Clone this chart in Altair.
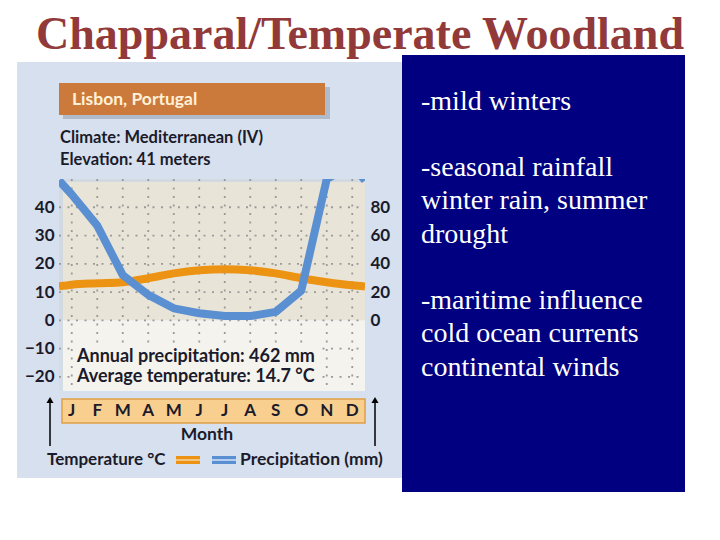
import altair as alt
import pandas as pd

# ---------------- data ----------------
months = list(range(1, 13))
month_letters = ["J", "F", "M", "A", "M", "J", "J", "A", "S", "O", "N", "D"]
temperature_c = [12.6, 13.1, 13.5, 14.9, 16.6, 17.7, 18.1, 17.7, 16.6, 14.9, 13.5, 12.4]
precipitation_mm = [89, 67, 32, 18, 8.5, 5, 3, 3, 6, 21, 100, 110]
# the curves run on to the plot edges (half a month before Jan / after Dec)
edge_months = [0.5, 12.5]
temperature_edges = [12.0, 12.0]
precipitation_edges = [99, 99]
temp_ticks = [-20, -10, 0, 10, 20, 30, 40]
precip_ticks = [0, 20, 40, 60, 80]
temp_domain = [-25, 50]
precip_domain = [-50, 100]
month_domain = [0.5, 12.5]

title_text = "Chapparal/Temperate Woodland"
station = "Lisbon, Portugal"
climate_lines = ["Climate: Mediterranean (IV)", "Elevation: 41 meters"]
summary_lines = ["Annual precipitation: 462 mm", "Average temperature: 14.7 °C"]
notes = [["-mild winters"],
         ["-seasonal rainfall", "winter rain, summer", "drought"],
         ["-maritime influence", "cold ocean currents", "continental winds"]]

temp_df = pd.DataFrame({"month": [edge_months[0]] + months + [edge_months[1]],
                        "temp": [temperature_edges[0]] + temperature_c + [temperature_edges[1]]})
prec_df = pd.DataFrame({"month": [edge_months[0]] + months + [edge_months[1]],
                        "prec": [precipitation_edges[0]] + precipitation_mm + [precipitation_edges[1]]})

# ---------------- layout / style ----------------
PAGE = 8
OX, OY = 59, 179          # page position of the plot's top-left corner
W, H = 306, 212
CW, CH = 704, 524

SANS = "Lato"
SERIF = "Liberation Serif"
DARK = "#1b1b2b"
PANEL = "#d6e0ee"
UPPER = "#e9e4d8"
LOWER = "#f5f3ee"
GRID = "#9a9a9a"
ORANGE = "#ec9314"
BLUE = "#5a8fd2"
HEADER = "#cc7a3c"
STRIP = "#f8cf8e"
NAVY = "#000080"
TITLE = "#923a3a"

one = pd.DataFrame({"k": [0]})


def px(ix):
    return alt.value(ix - OX)


def py(iy):
    return alt.value(iy - OY)


def box(x1, x2, y1, y2, **kw):
    return alt.Chart(one).mark_rect(**kw).encode(x=px(x1), x2=px(x2), y=py(y1), y2=py(y2))


def label(text, ix, iy, **kw):
    return alt.Chart(one).mark_text(text=text, **kw).encode(x=px(ix), y=py(iy))


xs = alt.Scale(domain=month_domain, nice=False, zero=False)
ys = alt.Scale(domain=temp_domain, nice=False, zero=False)
yp = alt.Scale(domain=precip_domain, nice=False, zero=False)

axis_style = dict(domain=False, ticks=False, grid=False, title=None, labelFont=SANS,
                  labelFontWeight="bold", labelFontSize=17, labelColor=DARK, labelPadding=5,
                  zindex=1)

layers = []
# light blue figure panel
layers.append(box(17, 402, 62, 478, color=PANEL))
# header
layers.append(box(63, 330, 87, 119, color="#9eaabb", opacity=0.7))
layers.append(box(59, 325, 83, 115, color=HEADER))
layers.append(label(station, 72, 100, font=SANS, fontWeight="bold", fontSize=17.5,
                    color="#fff1d8", align="left", baseline="middle"))
layers.append(label(climate_lines[0], 60, 138, font=SANS, fontWeight="bold", fontSize=16.5,
                    color=DARK, align="left", baseline="middle"))
layers.append(label(climate_lines[1], 60, 160, font=SANS, fontWeight="bold", fontSize=16.5,
                    color=DARK, align="left", baseline="middle"))

# plot backgrounds
layers.append(alt.Chart(pd.DataFrame({"lo": [0], "hi": [temp_domain[1]]})).mark_rect(color=UPPER)
              .encode(x=alt.value(0), x2=alt.value(W),
                      y=alt.Y("lo:Q", scale=ys, axis=None), y2="hi:Q"))
layers.append(alt.Chart(pd.DataFrame({"lo": [temp_domain[0]], "hi": [0]})).mark_rect(color=LOWER)
              .encode(x=alt.value(0), x2=alt.value(W),
                      y=alt.Y("lo:Q", scale=ys, axis=None), y2="hi:Q"))
layers.append(box(OX, OX + 4, OY, OY + H, color="#ccd6e3", opacity=0.8))
layers.append(box(OX, OX + W, OY, OY + 3, color="#ccd6e3", opacity=0.8))

# dotted grid
layers.append(alt.Chart(pd.DataFrame({"t": temp_ticks})).mark_rule(color=GRID, strokeDash=[2, 6.5], strokeWidth=1.8)
              .encode(y=alt.Y("t:Q", scale=ys, axis=None), x=alt.value(0), x2=alt.value(W)))
layers.append(alt.Chart(pd.DataFrame({"m": months})).mark_rule(color=GRID, strokeDash=[2, 6.5], strokeWidth=1.8)
              .encode(x=alt.X("m:Q", scale=xs, axis=None), y=alt.value(0), y2=alt.value(H)))

# data lines
layers.append(alt.Chart(temp_df).mark_line(color=ORANGE, strokeWidth=8, interpolate="monotone",
                                           clip=True, strokeCap="butt")
              .encode(x=alt.X("month:Q", scale=xs, axis=None),
                      y=alt.Y("temp:Q", scale=ys,
                              axis=alt.Axis(orient="left", values=temp_ticks, **axis_style))))
layers.append(alt.Chart(prec_df).mark_line(color=BLUE, strokeWidth=8, interpolate="linear",
                                           clip=True, strokeCap="butt", strokeJoin="round")
              .encode(x=alt.X("month:Q", scale=xs, axis=None),
                      y=alt.Y("prec:Q", scale=yp,
                              axis=alt.Axis(orient="right", values=precip_ticks, **axis_style))))

# summary annotation
layers.append(box(73, 322, 343, OY + H, color=LOWER))
layers.append(label(summary_lines[0], 77, 357, font=SANS, fontWeight="bold", fontSize=18,
                    color=DARK, align="left", baseline="middle"))
layers.append(label(summary_lines[1], 77, 377, font=SANS, fontWeight="bold", fontSize=18,
                    color=DARK, align="left", baseline="middle"))

# month strip
layers.append(box(62, 365, 399, 423, color=STRIP, stroke="#e0a048", strokeWidth=1.5))
layers.append(alt.Chart(pd.DataFrame({"m": months, "l": month_letters}))
              .mark_text(font=SANS, fontWeight="bold", fontSize=17, color=DARK, baseline="middle")
              .encode(x=alt.X("m:Q", scale=xs, axis=None), y=py(411), text="l:N"))
layers.append(label("Month", 207, 435, font=SANS, fontWeight="bold", fontSize=17.5,
                    color=DARK, align="center", baseline="middle"))

# arrows
for ax in (50, 375):
    layers.append(alt.Chart(one).mark_rule(color="black", strokeWidth=1.5)
                  .encode(x=px(ax), y=py(400), y2=py(446)))
    layers.append(alt.Chart(one).mark_point(shape="triangle-up", filled=True, size=50,
                                            color="black", opacity=1)
                  .encode(x=px(ax), y=py(400)))

# legend
layers.append(label("Temperature °C", 47, 460, font=SANS, fontWeight="bold", fontSize=17,
                    color=DARK, align="left", baseline="middle"))
layers.append(box(176, 200, 456, 464, color=ORANGE))
layers.append(box(176, 200, 459, 461, color="#f6c47c"))
layers.append(box(212, 236, 456, 464, color=BLUE))
layers.append(box(212, 236, 459, 461, color="#b4cff0"))
layers.append(label("Precipitation (mm)", 240, 460, font=SANS, fontWeight="bold", fontSize=17.5,
                    color=DARK, align="left", baseline="middle"))

# navy text box
layers.append(box(402, 685, 55, 492, color=NAVY))
for para, base in zip(notes, (110, 176, 309)):
    layers.append(label(para, 421, base, font=SERIF, fontSize=28, color="white", align="left",
                        baseline="alphabetic", lineHeight=33.3))

# slide title
layers.append(label(title_text, 360, 48.5, font=SERIF, fontWeight="bold", fontSize=46,
                    color=TITLE, align="center", baseline="alphabetic"))

chart = (alt.layer(*layers)
         .resolve_scale(y="independent")
         .properties(width=W, height=H,
                     autosize=alt.AutoSizeParams(type="none"),
                     padding={"left": OX - PAGE, "top": OY - PAGE,
                              "right": CW - (OX - PAGE) - W,
                              "bottom": CH - (OY - PAGE) - H})
         .configure_view(stroke=None))

chart.save("out.html", embed_options={"renderer": "svg", "actions": False})
